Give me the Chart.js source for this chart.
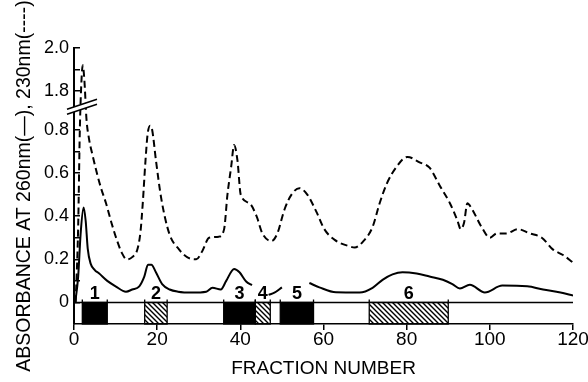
<!DOCTYPE html>
<html>
<head>
<meta charset="utf-8">
<script src="https://cdn.jsdelivr.net/npm/chart.js@4"></script>
<style>
  html, body { margin: 0; padding: 0; background: #fff; }
  #wrap { width: 588px; height: 382px; }
</style>
</head>
<body>
<div id="wrap"><canvas id="elution"></canvas></div>
<script>
// absorbance at 260 nm (solid trace); null = trace hidden behind a pool label
const fraction260 = [0.3, 1.0, 1.6, 2.3, 2.8, 3.3, 4.0, 5.0, 6.0, 8.0, 10, 12.5, 14, 15.7, 16.9, 17.8, 18.6, 19.7, 21.2, 23, 25, 28.4, 31.8, 33.3, 35.3, 36.6, 38.5, 39.8, 41.4, 42.8, 44, 46.8, 48.2, 50, 53, 56.6, 59, 63, 68.7, 71.8, 74.2, 76.6, 79, 82.4, 85.5, 88.7, 91, 92.8, 95.2, 98.8, 103, 109, 112.8, 117, 120];
const abs260 = [0, 0.12, 0.32, 0.44, 0.38, 0.25, 0.18, 0.15, 0.135, 0.10, 0.075, 0.05, 0.06, 0.075, 0.12, 0.175, 0.175, 0.14, 0.085, 0.06, 0.05, 0.046, 0.05, 0.068, 0.06, 0.10, 0.155, 0.14, 0.097, 0.08, null, 0.035, 0.045, 0.07, null, 0.09, 0.07, 0.047, 0.046, 0.068, 0.105, 0.13, 0.14, 0.134, 0.12, 0.105, 0.085, 0.065, 0.082, 0.046, 0.078, 0.075, 0.06, 0.046, 0.032];

// absorbance at 230 nm (dashed trace)
const fraction230 = [0.4, 1.0, 1.4, 1.8, 2.1, 2.5, 3.0, 3.6, 4.5, 5.5, 6.5, 7.7, 9, 10.3, 11.5, 12.7, 14, 15.3, 16, 16.5, 17.2, 17.7, 18.3, 18.8, 19.7, 21, 22.9, 25.3, 27.2, 29.4, 30.9, 32.5, 34.8, 36.1, 36.9, 37.8, 38.5, 39.3, 40.1, 42.2, 43.9, 45.3, 47.5, 48.9, 50.6, 52.3, 54.2, 56.1, 58.3, 60.2, 62.7, 66.3, 67.5, 69.4, 71.8, 73.5, 75.2, 77.6, 80.2, 83.1, 85.5, 88, 90.4, 92.2, 93, 93.8, 94.6, 95.5, 98, 100, 101.7, 104, 106.7, 109.6, 112.5, 115.2, 117.6, 120];
const abs230 = [0, 0.35, 0.8, 1.85, 1.92, 1.85, 0.85, 0.76, 0.68, 0.6, 0.53, 0.46, 0.37, 0.29, 0.23, 0.2, 0.21, 0.25, 0.33, 0.45, 0.66, 0.78, 0.82, 0.8, 0.66, 0.48, 0.32, 0.245, 0.21, 0.2, 0.24, 0.3, 0.305, 0.34, 0.5, 0.63, 0.73, 0.66, 0.5, 0.46, 0.4, 0.32, 0.285, 0.32, 0.43, 0.5, 0.53, 0.5, 0.42, 0.34, 0.29, 0.26, 0.255, 0.28, 0.35, 0.46, 0.55, 0.63, 0.675, 0.65, 0.625, 0.54, 0.46, 0.38, 0.34, 0.37, 0.46, 0.44, 0.35, 0.3, 0.32, 0.32, 0.34, 0.32, 0.3, 0.245, 0.22, 0.185];

// axis ticks
const yTickValues = [0, 0.1, 0.2, 0.3, 0.4, 0.5, 0.6, 0.7, 0.8, 1.8, 1.9, 2.0];
const yTickLabels = ['0', '', '0.2', '', '0.4', '', '0.6', '', '0.8', '1.8', '', '2.0'];
const xTickValues = [0, 20, 40, 60, 80, 100, 120];

// pooled fractions shown in the strip under the baseline
const poolNames = ['1', '2', '3', '4', '5', '6'];
const poolStart = [2, 17, 36, 43.6, 49.6, 71];
const poolEnd = [8, 22.4, 43.6, 47.2, 57.6, 90];
const poolKind = ['solid', 'hatched', 'solid', 'hatched', 'solid', 'hatched'];

// broken axis: everything above the break is pulled down so 1.8 sits just over 0.9
const BREAK_SHIFT = 0.82;
const BREAK_AT = 0.91;
const toAxis = v => (v == null ? null : (v >= 1.0 ? v - BREAK_SHIFT : v));

const FONT = '"Liberation Sans", Arial, sans-serif';
Chart.defaults.font.family = FONT;
Chart.defaults.color = '#000';

function hatchPattern(ctx) {
  const c = document.createElement('canvas');
  c.width = 5; c.height = 5;
  const p = c.getContext('2d');
  p.strokeStyle = '#000';
  p.lineWidth = 1.4;
  p.beginPath();
  p.moveTo(-1, -1); p.lineTo(6, 6);
  p.moveTo(-1, 4); p.lineTo(1, 6);
  p.moveTo(4, -1); p.lineTo(6, 1);
  p.stroke();
  return ctx.createPattern(c, 'repeat');
}

const poolStrip = {
  id: 'poolStrip',
  beforeDatasetsDraw(chart) {
    const { ctx, scales: { x, y } } = chart;
    const top = y.getPixelForValue(0);
    const bottom = y.getPixelForValue(y.min);
    const hatch = hatchPattern(ctx);
    ctx.save();
    ctx.strokeStyle = '#000';
    ctx.lineWidth = 1.5;
    ctx.beginPath();
    ctx.moveTo(x.getPixelForValue(0), top);
    ctx.lineTo(x.getPixelForValue(120), top);
    ctx.stroke();
    poolNames.forEach((name, i) => {
      const x0 = x.getPixelForValue(poolStart[i]);
      const x1 = x.getPixelForValue(poolEnd[i]);
      ctx.fillStyle = poolKind[i] === 'solid' ? '#000' : hatch;
      ctx.fillRect(x0, top, x1 - x0, bottom - top);
      ctx.lineWidth = 1.3;
      ctx.strokeRect(x0, top, x1 - x0, bottom - top);
      ctx.beginPath();
      ctx.moveTo(x0, top); ctx.lineTo(x0, top - 3);
      ctx.moveTo(x1, top); ctx.lineTo(x1, top - 3);
      ctx.stroke();
    });
    ctx.restore();
  },
  afterDatasetsDraw(chart) {
    const { ctx, scales: { x, y } } = chart;
    const top = y.getPixelForValue(0);
    ctx.save();
    ctx.fillStyle = '#000';
    ctx.font = 'bold 18px ' + FONT;
    ctx.textAlign = 'center';
    ctx.textBaseline = 'alphabetic';
    poolNames.forEach((name, i) => {
      const cx = x.getPixelForValue((poolStart[i] + poolEnd[i]) / 2);
      ctx.fillText(name, cx, top - 3);
    });
    ctx.restore();
  },
  afterDraw(chart) {
    // the // mark where the y axis is broken
    const { ctx, scales: { x, y } } = chart;
    const bx = x.left;
    const by = y.getPixelForValue(BREAK_AT);
    ctx.save();
    ctx.fillStyle = '#fff';
    ctx.beginPath();
    ctx.moveTo(bx - 7, by + 3);
    ctx.lineTo(bx + 23, by - 7);
    ctx.lineTo(bx + 23, by - 2);
    ctx.lineTo(bx - 7, by + 8);
    ctx.closePath();
    ctx.fill();
    ctx.strokeStyle = '#000';
    ctx.lineWidth = 1.6;
    ctx.beginPath();
    ctx.moveTo(bx - 7, by + 3); ctx.lineTo(bx + 23, by - 7);
    ctx.moveTo(bx - 7, by + 8); ctx.lineTo(bx + 23, by - 2);
    ctx.stroke();
    ctx.restore();
  }
};

new Chart(document.getElementById('elution'), {
  type: 'line',
  data: {
    datasets: [{
      label: '260 nm',
      data: fraction260.map((f, i) => ({ x: f, y: toAxis(abs260[i]) })),
      borderColor: '#000',
      borderWidth: 2,
      pointRadius: 0,
      cubicInterpolationMode: 'monotone',
      spanGaps: false,
    }, {
      label: '230 nm',
      data: fraction230.map((f, i) => ({ x: f, y: toAxis(abs230[i]) })),
      borderColor: '#000',
      borderWidth: 2,
      borderDash: [7, 4],
      pointRadius: 0,
      cubicInterpolationMode: 'monotone',
    }],
  },
  options: {
    responsive: true,
    maintainAspectRatio: false,
    animation: false,
    layout: { padding: { top: 48, right: 15, left: 0, bottom: 0 } },
    plugins: { legend: { display: false }, tooltip: { enabled: false } },
    scales: {
      x: {
        type: 'linear',
        min: 0,
        max: 120,
        afterBuildTicks: s => { s.ticks = xTickValues.map(v => ({ value: v })); },
        afterFit: s => { s.height = 58; },
        border: { color: '#000', width: 1.5 },
        grid: { drawOnChartArea: false, color: '#000', lineWidth: 1.5, tickLength: 6 },
        ticks: { font: { size: 19 }, padding: -2, maxRotation: 0, autoSkip: false },
        title: {
          display: true,
          text: 'FRACTION NUMBER',
          font: { size: 19 },
          padding: { top: 0, bottom: 2 },
        },
      },
      y: {
        type: 'linear',
        min: -0.1,
        max: toAxis(2.0),
        afterBuildTicks: s => { s.ticks = yTickValues.map(v => ({ value: toAxis(v) })); },
        afterFit: s => { s.width = 74; },
        border: { color: '#000', width: 2 },
        grid: { drawOnChartArea: false, color: '#000', lineWidth: 1.5, tickLength: -6 },
        ticks: {
          font: { size: 18 },
          padding: 11,
          autoSkip: false,
          callback: (v, i) => yTickLabels[i],
        },
        title: {
          display: true,
          text: 'ABSORBANCE AT 260nm(—), 230nm(----)',
          font: { size: 19.5 },
          padding: { top: 13, bottom: 0 },
        },
      },
    },
  },
  plugins: [poolStrip],
});
</script>
</body>
</html>
